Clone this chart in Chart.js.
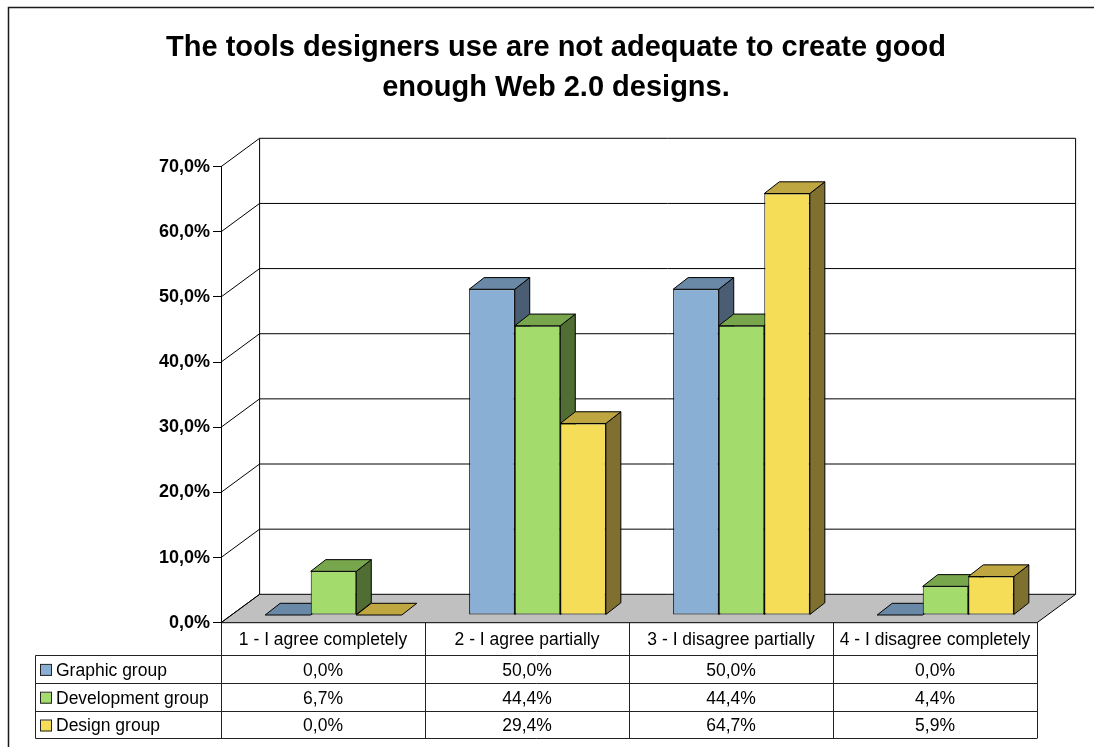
<!DOCTYPE html>
<html>
<head>
<meta charset="utf-8">
<title>Web 2.0 design tools</title>
<script src="https://cdn.jsdelivr.net/npm/chart.js@4.4.1/dist/chart.umd.min.js"></script>
<style>
    html, body { margin: 0; padding: 0; background: #fff; }
    #wrap { width: 1094px; height: 747px; }
</style>
</head>
<body>
<div id="wrap"><canvas id="myChart" width="1094" height="747"></canvas></div>
<script>
const categories = ['1 - I agree completely', '2 - I agree partially', '3 - I disagree partially', '4 - I disagree completely'];
const seriesNames = ['Graphic group', 'Development group', 'Design group'];
const graphicGroup = [0.0, 50.0, 50.0, 0.0];
const developmentGroup = [6.7, 44.4, 44.4, 4.4];
const designGroup = [0.0, 29.4, 64.7, 5.9];
const yMin = 0, yMax = 70, yStep = 10;

const FONT = "'Liberation Sans', Arial, sans-serif";
const frontColors = ['#8aafd4', '#a3dc6c', '#f5dd58'];
const topColors = ['#6a89a6', '#78a64c', '#bea640'];
const sideColors = ['#4a5d72', '#506e33', '#7f7030'];

// 3d look: depth of the walls, where the bars stand, how thick they are
const DEPTH_X = 38.6, DEPTH_Y = -28.4;
const BAR_X = 10.5, BAR_Y = -7.7;
const BAR_DX = 15, BAR_DY = -11.7;

// data table under the plot
const TABLE_LEFT = 35.5;
const ROW_TOP = 655;
const ROW_H = 27.8;

const fmt = v => v.toFixed(1).replace('.', ',') + '%';
const snap = v => Math.round(v) + 0.5;

function poly(ctx, pts, fill) {
    ctx.beginPath();
    ctx.moveTo(pts[0][0], pts[0][1]);
    for (let k = 1; k < pts.length; k++) ctx.lineTo(pts[k][0], pts[k][1]);
    ctx.closePath();
    ctx.fillStyle = fill;
    ctx.fill();
    ctx.stroke();
}

const box3d = {
    id: 'box3d',
    beforeDraw(chart) {
        const ctx = chart.ctx;
        ctx.save();
        ctx.strokeStyle = '#1a1a1a';
        ctx.lineWidth = 1.5;
        ctx.beginPath();
        ctx.moveTo(8.5, chart.height + 5);
        ctx.lineTo(8.5, 7.5);
        ctx.lineTo(chart.width + 5, 7.5);
        ctx.stroke();
        ctx.restore();
    },
    beforeDatasetsDraw(chart) {
        const {ctx, chartArea: a, scales: {y}} = chart;
        const y0 = y.getPixelForValue(yMin);
        const yTop = y.getPixelForValue(yMax);
        ctx.save();
        ctx.lineWidth = 1;
        ctx.strokeStyle = '#000';

        // floor
        poly(ctx, [[a.left, y0], [a.right, y0], [a.right + DEPTH_X, y0 + DEPTH_Y], [a.left + DEPTH_X, y0 + DEPTH_Y]], '#c0c0c0');

        // side wall diagonals + back wall grid
        ctx.beginPath();
        y.ticks.forEach(t => {
            const py = y.getPixelForValue(t.value);
            ctx.moveTo(a.left, py);
            ctx.lineTo(a.left + DEPTH_X, py + DEPTH_Y);
            if (t.value > yMin) ctx.lineTo(a.right + DEPTH_X, py + DEPTH_Y);
        });
        ctx.moveTo(a.left + DEPTH_X, yTop + DEPTH_Y);
        ctx.lineTo(a.left + DEPTH_X, y0 + DEPTH_Y);
        ctx.moveTo(a.right + DEPTH_X, yTop + DEPTH_Y);
        ctx.lineTo(a.right + DEPTH_X, y0 + DEPTH_Y);
        ctx.stroke();

        // top and side faces of the bars, left to right
        for (let i = 0; i < categories.length; i++) {
            chart.data.datasets.forEach((ds, d) => {
                const el = chart.getDatasetMeta(d).data[i];
                const L = el.x - el.width / 2 + BAR_X;
                const R = el.x + el.width / 2 + BAR_X;
                const T = el.y + BAR_Y;
                const B = el.base + BAR_Y;
                if (B - T > 0.5) {
                    poly(ctx, [[R, T], [R + BAR_DX, T + BAR_DY], [R + BAR_DX, B + BAR_DY], [R, B]], sideColors[d]);
                }
                poly(ctx, [[L, T], [L + BAR_DX, T + BAR_DY], [R + BAR_DX, T + BAR_DY], [R, T]], topColors[d]);
            });
        }
        ctx.restore();

        // front faces are drawn by Chart.js, pushed back a little
        ctx.save();
        ctx.translate(BAR_X, BAR_Y);
    },
    afterDatasetsDraw(chart) {
        chart.ctx.restore();
    },
    afterDraw(chart) {
        const {ctx, chartArea: a} = chart;
        const n = categories.length;
        const colW = (a.right - a.left) / n;
        const rows = [graphicGroup, developmentGroup, designGroup];
        const bottom = ROW_TOP + ROW_H * rows.length;

        ctx.save();
        ctx.strokeStyle = '#222';
        ctx.lineWidth = 1;
        ctx.beginPath();
        for (let i = 0; i <= n; i++) {
            const px = snap(a.left + i * colW);
            ctx.moveTo(px, a.bottom);
            ctx.lineTo(px, snap(bottom));
        }
        ctx.moveTo(TABLE_LEFT, snap(ROW_TOP));
        ctx.lineTo(TABLE_LEFT, snap(bottom));
        for (let r = 0; r <= rows.length; r++) {
            const py = snap(ROW_TOP + r * ROW_H);
            ctx.moveTo(TABLE_LEFT, py);
            ctx.lineTo(a.right, py);
        }
        ctx.stroke();

        ctx.font = '17.5px ' + FONT;
        ctx.fillStyle = '#000';
        ctx.textBaseline = 'middle';
        rows.forEach((vals, r) => {
            const cy = ROW_TOP + r * ROW_H + ROW_H / 2 + 2;
            // legend key
            ctx.fillStyle = frontColors[r];
            ctx.fillRect(41, cy - 6, 11, 11);
            ctx.strokeStyle = '#222';
            ctx.strokeRect(40.5, cy - 6.5, 11, 11);
            ctx.fillStyle = '#000';
            ctx.textAlign = 'left';
            ctx.fillText(seriesNames[r], 56, cy);
            ctx.textAlign = 'center';
            vals.forEach((v, i) => {
                ctx.fillText(fmt(v), a.left + (i + 0.5) * colW, cy);
            });
        });
        ctx.restore();
    }
};

const data = {
    labels: categories,
    datasets: [graphicGroup, developmentGroup, designGroup].map((vals, d) => ({
        label: seriesNames[d],
        data: vals,
        backgroundColor: frontColors[d],
        borderColor: '#000',
        borderWidth: 1,
        borderSkipped: false,
        barPercentage: 1,
        categoryPercentage: 0.67,
        clip: false
    }))
};

const config = {
    type: 'bar',
    data: data,
    options: {
        responsive: false,
        devicePixelRatio: 1,
        animation: false,
        events: [],
        layout: {
            padding: { left: 75, right: 57, top: 0, bottom: 0 }
        },
        plugins: {
            legend: { display: false },
            tooltip: { enabled: false },
            title: {
                display: true,
                text: ['The tools designers use are not adequate to create good', 'enough Web 2.0 designs.'],
                color: '#000',
                font: { family: FONT, size: 29, weight: 'bold', lineHeight: 40 / 29 },
                padding: { top: 28, bottom: 58.7 }
            }
        },
        scales: {
            x: {
                grid: { display: false, drawTicks: false },
                border: { display: false },
                ticks: {
                    color: '#000',
                    font: { family: FONT, size: 17.5 },
                    padding: 7,
                    autoSkip: false,
                    maxRotation: 0
                },
                afterFit: scale => { scale.height = 124.3; }
            },
            y: {
                min: yMin,
                max: yMax,
                grid: { drawOnChartArea: false, tickLength: 8, color: '#000' },
                border: { color: '#000' },
                ticks: {
                    stepSize: yStep,
                    color: '#000',
                    padding: 3,
                    font: { family: FONT, size: 18, weight: 'bold' },
                    callback: v => fmt(v)
                },
                afterFit: scale => { scale.width = 146; }
            }
        }
    },
    plugins: [box3d]
};

window.onload = function() {
    const ctx = document.getElementById('myChart').getContext('2d');
    new Chart(ctx, config);
};
</script>
</body>
</html>
